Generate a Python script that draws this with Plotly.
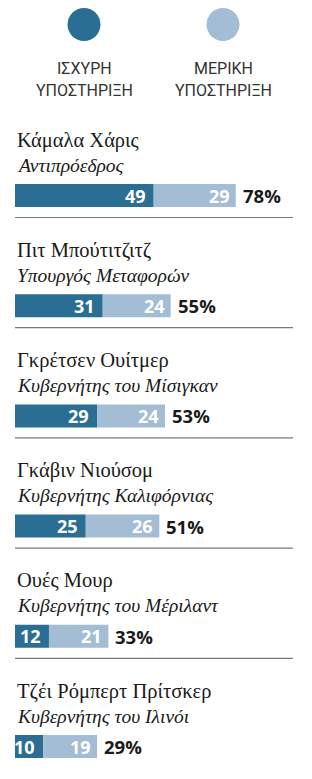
import plotly.graph_objects as go

names = ["Κάμαλα Χάρις", "Πιτ Μπούτιτζιτζ", "Γκρέτσεν Ουίτμερ", "Γκάβιν Νιούσομ",
         "Ουές Μουρ", "Τζέι Ρόμπερτ Πρίτσκερ"]
roles = ["Αντιπρόεδρος", "Υπουργός Μεταφορών", "Κυβερνήτης του Μίσιγκαν",
         "Κυβερνήτης Καλιφόρνιας", "Κυβερνήτης του Μέριλαντ", "Κυβερνήτης του Ιλινόι"]
strong = [49, 31, 29, 25, 12, 10]
partial = [29, 24, 24, 26, 21, 19]
legend_top = ["ΙΣΧΥΡΗ", "ΜΕΡΙΚΗ"]
legend_bottom = ["ΥΠΟΣΤΗΡΙΞΗ", "ΥΠΟΣΤΗΡΙΞΗ"]

DARK = "#2b6e93"
LIGHT = "#a3bdd5"
W, H = 312, 779
K = 2.83          # px per unit
X0 = 15           # px of zero
ROW0 = 195.5
STEP = 110.2

totals = [s + p for s, p in zip(strong, partial)]
rows = [ROW0 + i * STEP for i in range(len(names))]

fig = go.Figure()
fig.add_trace(go.Bar(y=rows, x=strong, orientation="h", marker=dict(color=DARK, line_width=0),
                     width=23, hoverinfo="skip"))
fig.add_trace(go.Bar(y=rows, x=partial, base=strong, orientation="h",
                     marker=dict(color=LIGHT, line_width=0), width=23, hoverinfo="skip"))

ann = []
shapes = []
SERIF = "Liberation Serif, Times New Roman, serif"
SANS = "Open Sans, Roboto, sans-serif"
for i, y in enumerate(rows):
    ann.append(dict(x=0, y=y - 55.5, text=names[i], xanchor="left", yanchor="middle",
                    showarrow=False, font=dict(family=SERIF, size=20.5, color="#1a1a1a")))
    ann.append(dict(x=0, y=y - 30.5, text="<i>" + roles[i] + "</i>", xanchor="left",
                    yanchor="middle", showarrow=False,
                    font=dict(family=SERIF, size=19.5, color="#1a1a1a")))
    ann.append(dict(x=strong[i], y=y, text="<b>%d</b>" % strong[i], xanchor="right",
                    yanchor="middle", xshift=-6, showarrow=False,
                    font=dict(family=SANS, size=18, color="white")))
    ann.append(dict(x=totals[i], y=y, text="<b>%d</b>" % partial[i], xanchor="right",
                    yanchor="middle", xshift=-4, showarrow=False,
                    font=dict(family=SANS, size=18, color="white")))
    ann.append(dict(x=totals[i], y=y, text="<b>%d%%</b>" % totals[i], xanchor="left",
                    yanchor="middle", xshift=5, showarrow=False,
                    font=dict(family=SANS, size=18.5, color="#1a1a1a")))
    if i < len(rows) - 1:
        shapes.append(dict(type="line", xref="paper", yref="y", x0=15 / W, x1=293 / W,
                           y0=y + 22, y1=y + 22, line=dict(color="#7a7a7a", width=1.2)))

# legend
LEGF = dict(family="Liberation Sans Narrow, Roboto, sans-serif", size=16, color="#333333")
for cx, col, t1, t2 in [(84, DARK, legend_top[0], legend_bottom[0]),
                        (223, LIGHT, legend_top[1], legend_bottom[1])]:
    shapes.append(dict(type="circle", xref="paper", yref="y", x0=(cx - 16.5) / W,
                       x1=(cx + 16.5) / W, y0=8, y1=41, fillcolor=col, line_width=0))
    ann.append(dict(xref="paper", x=cx / W, y=68, text=t1, xanchor="center",
                    yanchor="middle", showarrow=False, font=LEGF))
    ann.append(dict(xref="paper", x=cx / W, y=90, text=t2, xanchor="center",
                    yanchor="middle", showarrow=False, font=LEGF))

fig.update_layout(
    width=W, height=H, margin=dict(l=0, r=0, t=0, b=0),
    paper_bgcolor="white", plot_bgcolor="white",
    barmode="overlay", showlegend=False,
    xaxis=dict(range=[-X0 / K, (W - X0) / K], visible=False, fixedrange=True),
    yaxis=dict(range=[H, 0], visible=False, fixedrange=True),
    annotations=ann, shapes=shapes,
)
fig.write_html("out.html", config={"displayModeBar": False})
